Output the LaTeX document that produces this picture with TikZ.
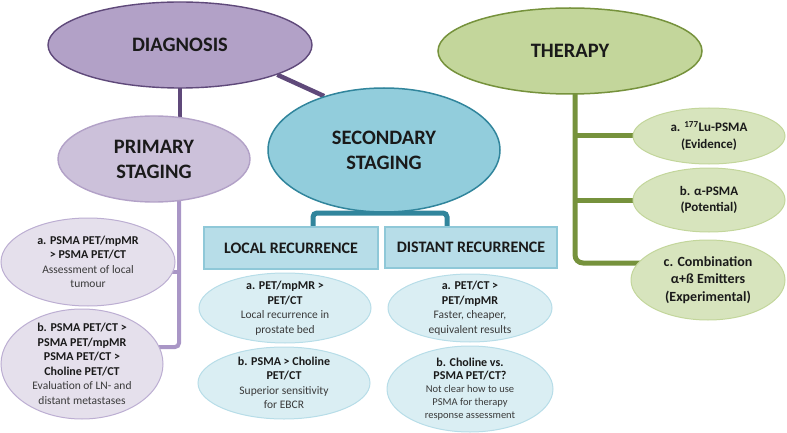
\documentclass[tikz,border=0pt]{standalone}
\usepackage{fontspec}
\setmainfont{Carlito}
\usetikzlibrary{shapes.geometric,backgrounds}
\definecolor{diagF}{HTML}{B2A1C7}
\definecolor{diagD}{HTML}{5F497A}
\definecolor{primF}{HTML}{CCC1DA}
\definecolor{primD}{HTML}{B2A1C7}
\definecolor{psubF}{HTML}{E5E0EC}
\definecolor{psubD}{HTML}{BCAED2}
\definecolor{pLine}{HTML}{A996C6}
\definecolor{secF}{HTML}{92CDDC}
\definecolor{secD}{HTML}{31859C}
\definecolor{boxF}{HTML}{B7DDE8}
\definecolor{boxD}{HTML}{8FC8D8}
\definecolor{ssubF}{HTML}{DAEEF3}
\definecolor{ssubD}{HTML}{B7DDE8}
\definecolor{thF}{HTML}{C3D69B}
\definecolor{thD}{HTML}{76923C}
\definecolor{tsubF}{HTML}{D7E4BD}
\definecolor{tsubD}{HTML}{C3D69B}
\definecolor{txt}{HTML}{1A1A1A}
\definecolor{txtn}{HTML}{3A3A3A}
\newcommand\bfl[1]{{\bfseries\color{txt}\fontsize{12}{14.5}\selectfont #1}}
\begin{document}
\begin{tikzpicture}[x=1pt,y=-1pt,
  ell/.style={ellipse, inner sep=0pt, line width=1pt},
  boxn/.style={rectangle, inner sep=0pt, line width=1.5pt, fill=boxF, draw=boxD},
  hd/.style={font=\bfseries\fontsize{20.5}{25}\selectfont, align=center, text=txt},
  bx/.style={font=\bfseries\fontsize{16}{19}\selectfont, align=center, text=txt},
  sm/.style={font=\fontsize{11.5}{14.5}\selectfont, align=center, text=txtn},
  xs/.style={font=\fontsize{10.5}{13}\selectfont, align=center, text=txtn},
  th/.style={font=\bfseries\fontsize{13}{16.5}\selectfont, align=center, text=txt},
  thc/.style={font=\bfseries\fontsize{14}{17.5}\selectfont, align=center, text=txt},
  dline/.style={draw=diagD, line width=4.5pt},
  pline/.style={draw=pLine, line width=4pt},
  tline/.style={draw=secD, line width=5pt},
  gline/.style={draw=thD, line width=5pt}]
\useasboundingbox (0,0) rectangle (787,433);

% Diagnosis branch
\node[ell, fill=diagF, draw=diagD, line width=1.4pt, minimum width=264pt, minimum height=86pt,
  label={[hd]center:DIAGNOSIS}] (diag) at (180,45) {};
\node[ell, fill=primF, draw=primD, line width=1.4pt, minimum width=192pt, minimum height=86pt,
  label={[hd]center:{PRIMARY\\STAGING}}] (prim) at (154,159) {};
\node[ell, fill=psubF, draw=psubD, minimum width=174pt, minimum height=88pt,
  label={[sm]center:{\bfl{a. PSMA PET/mpMR}\\\bfl{> PSMA PET/CT}\\Assessment of local\\tumour}}] (pa) at (88,262) {};
\node[ell, fill=psubF, draw=psubD, minimum width=162pt, minimum height=110pt,
  label={[sm]center:{\bfl{b. PSMA PET/CT >}\\\bfl{PSMA PET/mpMR}\\\bfl{PSMA PET/CT >}\\\bfl{Choline PET/CT}\\Evaluation of LN- and\\distant metastases}}] (pb) at (82,364) {};

% Secondary staging
\node[ell, fill=secF, draw=secD, line width=1.5pt, minimum width=232pt, minimum height=124pt,
  label={[hd]center:{SECONDARY\\STAGING}}] (sec) at (384,150) {};
\node[boxn, minimum width=174pt, minimum height=42pt,
  label={[bx]center:LOCAL RECURRENCE}] (lr) at (291,248) {};
\node[boxn, minimum width=172pt, minimum height=41pt,
  label={[bx]center:DISTANT RECURRENCE}] (dr) at (471,247.5) {};
\node[ell, fill=ssubF, draw=ssubD, minimum width=172pt, minimum height=70pt,
  label={[sm]center:{\bfl{a. PET/mpMR >}\\\bfl{PET/CT}\\Local recurrence in\\prostate bed}}] (la) at (285,308) {};
\node[ell, fill=ssubF, draw=ssubD, minimum width=172pt, minimum height=72pt,
  label={[sm]center:{\bfl{b. PSMA > Choline}\\\bfl{PET/CT}\\Superior sensitivity\\for EBCR}}] (lb) at (284,383) {};
\node[ell, fill=ssubF, draw=ssubD, minimum width=164pt, minimum height=68pt,
  label={[sm]center:{\bfl{a. PET/CT >}\\\bfl{PET/mpMR}\\Faster, cheaper,\\equivalent results}}] (da) at (470,308) {};
\node[ell, fill=ssubF, draw=ssubD, minimum width=166pt, minimum height=86pt,
  label={[xs]center:{\bfl{b. Choline vs.}\\\bfl{PSMA PET/CT?}\\Not clear how to use\\PSMA for therapy\\response assessment}}] (db) at (470,389) {};

% Therapy
\node[ell, fill=thF, draw=thD, line width=1.5pt, minimum width=264pt, minimum height=86pt,
  label={[hd]center:THERAPY}] (ther) at (570,51) {};
\node[ell, fill=tsubF, draw=tsubD, minimum width=152pt, minimum height=56pt,
  label={[th]center:{a. \textsuperscript{177}Lu-PSMA\\(Evidence)}}] (ta) at (709,136) {};
\node[ell, fill=tsubF, draw=tsubD, minimum width=152pt, minimum height=64pt,
  label={[th]center:{b. α-PSMA\\(Potential)}}] (tb) at (709,200) {};
\node[ell, fill=tsubF, draw=tsubD, minimum width=154pt, minimum height=80pt,
  label={[thc]center:{c. Combination\\α+ß Emitters\\(Experimental)}}] (tc) at (708,280) {};

% connectors
\coordinate (pj) at (179,347);
\coordinate (pk) at (179,272);
\coordinate (bl) at (313,213);
\coordinate (br) at (447,213);
\coordinate (tj) at (575,263);
\begin{scope}[on background layer]
  \draw[dline] (diag.center) -- (diag.center |- prim.center);
  \draw[dline] (diag.-17) -- (sec.138);
  \draw[pline, rounded corners=4pt] (prim.center -| pj) -- (pj) -- (pb.center |- pj);
  \draw[pline] (pk) -- (pa.center |- pk);
  \draw[tline, rounded corners=4pt] (lr.center -| bl) -- (bl) -- (br) -- (dr.center -| br);
  \draw[gline, rounded corners=8pt] (ther.center -| tj) -- (tj) -- (tc.center |- tj);
  \draw[gline] (tj |- ta.center) -- (ta.center);
  \draw[gline] (tj |- tb.center) -- (tb.center);
\end{scope}
\end{tikzpicture}
\end{document}
